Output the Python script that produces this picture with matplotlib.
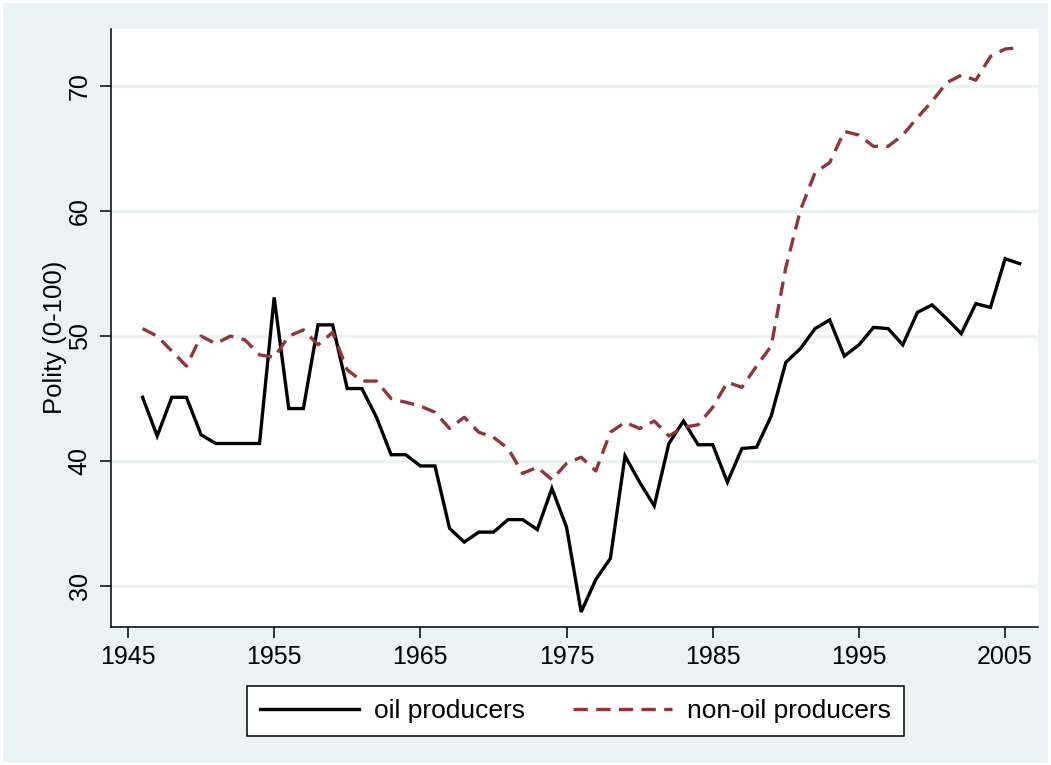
import numpy as np
import matplotlib.pyplot as plt
from matplotlib.patches import Rectangle

plt.rcParams['font.family'] = ['Liberation Sans', 'DejaVu Sans']

years = list(range(1946, 2007))

oil = [45.1, 42.0, 45.1, 45.1, 42.1, 41.4, 41.4, 41.4, 41.4, 53.1,
       44.2, 44.2, 50.9, 50.9, 45.8, 45.8, 43.5, 40.5, 40.5, 39.6,
       39.6, 34.6, 33.5, 34.3, 34.3, 35.3, 35.3, 34.5, 37.8, 34.7,
       27.9, 30.5, 32.2, 40.4, 38.3, 36.4, 41.4, 43.2, 41.3, 41.3,
       38.3, 41.0, 41.1, 43.6, 47.9, 49.0, 50.6, 51.3, 48.4, 49.3,
       50.7, 50.6, 49.3, 51.9, 52.5, 51.4, 50.2, 52.6, 52.3, 56.2,
       55.8]

nonoil = [50.6, 50.0, 48.8, 47.6, 50.0, 49.4, 50.0, 49.7, 48.5, 48.3,
          50.0, 50.5, 49.3, 50.3, 47.3, 46.4, 46.4, 45.0, 44.7, 44.4,
          43.9, 42.6, 43.5, 42.3, 41.9, 41.0, 39.0, 39.5, 38.5, 39.8,
          40.3, 39.2, 42.3, 43.1, 42.6, 43.2, 42.0, 42.7, 42.9, 44.3,
          46.3, 45.9, 47.6, 49.2, 55.5, 60.1, 63.1, 63.9, 66.4, 66.1,
          65.2, 65.2, 66.1, 67.5, 68.8, 70.3, 70.9, 70.5, 72.4, 73.0,
          73.1]

xticks = [1945, 1955, 1965, 1975, 1985, 1995, 2005]
yticks = [30, 40, 50, 60, 70]

bg = '#EAF2F3'
maroon = '#90353B'

fig = plt.figure(figsize=(10.51, 7.65), dpi=100, facecolor='white')
fig.patches.append(Rectangle((3 / 1051, 2 / 765), 1045 / 1051, 760 / 765,
                             transform=fig.transFigure, facecolor=bg,
                             edgecolor='none', zorder=-10))

ax = fig.add_axes([111 / 1051, 1 - 627 / 765, 927 / 1051, 598 / 765])
ax.set_zorder(1)
ax.set_facecolor('white')

ax.plot(years, oil, color='black', lw=2.4, label='oil producers',
        solid_joinstyle='miter')
ax.plot(years, nonoil, color=maroon, lw=2.4, linestyle=(0, (4.3, 2.5)),
        label='non-oil producers')

ax.set_xlim(1943.84, 2007.25)
ax.set_ylim(26.7, 74.6)
ax.set_xticks(xticks)
ax.set_yticks(yticks)
ax.set_yticklabels([str(v) for v in yticks], rotation=90, va='center')
ax.tick_params(axis='both', labelsize=18, length=8, width=1.1, direction='out')
ax.tick_params(axis='x', pad=5)
ax.tick_params(axis='y', pad=6)
ax.grid(axis='y', color=bg, lw=2.5)
ax.set_axisbelow(True)

for s in ['top', 'right']:
    ax.spines[s].set_visible(False)
for s in ['left', 'bottom']:
    ax.spines[s].set_linewidth(1.1)

ax.set_ylabel('Polity (0-100)', fontsize=18.5)
ax.yaxis.set_label_coords(-0.048, 0.485)

leg = fig.legend(loc='center', bbox_to_anchor=(575.5 / 1051, 1 - 711 / 765),
                 ncol=2, fontsize=19, frameon=True, fancybox=False,
                 edgecolor='black', facecolor='white', framealpha=1,
                 handlelength=3.75, columnspacing=1.8,
                 handletextpad=0.57, borderpad=0.5)
leg.get_frame().set_linewidth(1.1)
leg.set_zorder(5)

fig.savefig('out.png', dpi=100, facecolor='white')
